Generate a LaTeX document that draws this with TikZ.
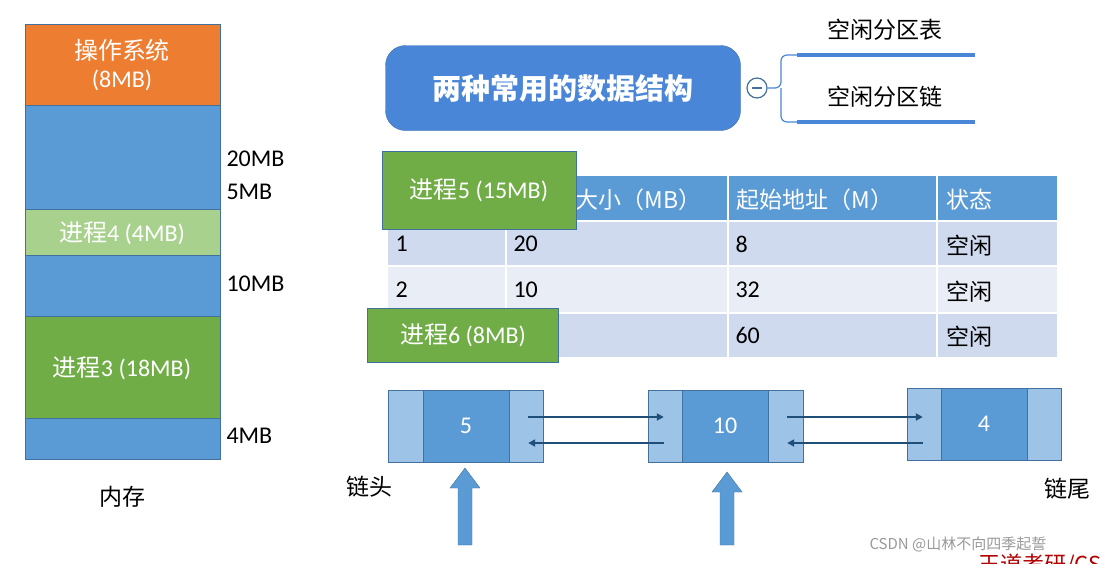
\documentclass[tikz,border=0pt]{standalone}
\usepackage{fontspec}
\setmainfont{Carlito}
\newfontfamily\cjk{Noto Sans CJK SC}
\usetikzlibrary{positioning,calc,arrows.meta}

\definecolor{orangeos}{HTML}{ED7D31}
\definecolor{blockblue}{HTML}{5B9BD5}
\definecolor{lightgreen}{HTML}{A9D18E}
\definecolor{procgreen}{HTML}{70AD47}
\definecolor{edgeblue}{HTML}{41719C}
\definecolor{mapblue}{HTML}{4A86D8}
\definecolor{rowa}{HTML}{CFDAEE}
\definecolor{rowb}{HTML}{E9EDF5}
\definecolor{cellside}{HTML}{9DC3E6}
\definecolor{ptrblue}{HTML}{1F4E79}

\tikzset{
  mem/.style={draw=edgeblue,fill=blockblue},
  big/.style={font=\fontsize{24}{28}\selectfont},
  bigcjk/.style={font=\cjk\fontsize{23}{28}\selectfont},
  lbl/.style={big,anchor=west},
  cell/.style={anchor=west,big},
  proc/.style={draw=edgeblue,fill=procgreen,text=white,big},
  side/.style={draw=edgeblue,fill=cellside},
  val/.style={draw=edgeblue,fill=blockblue,text=white,big,minimum width=86,minimum height=72},
  ptr/.style={-{Triangle[length=7pt,width=7pt]},ptrblue,line width=2pt},
  up/.style={draw=edgeblue,fill=blockblue}
}

\begin{document}
\begin{tikzpicture}[x=1pt,y=-1pt]
  \useasboundingbox (0,0) rectangle (1117,563);

  % memory column
  \draw[mem,fill=orangeos] (25,24) rectangle (220,105);
  \node[text=white,align=center,big] (os) at (122,65) {{\cjk 操作系统}\\(8MB)};
  \draw[mem] (25,105) rectangle (220,209);
  \draw[mem,fill=lightgreen] (25,209) rectangle (220,255);
  \node[text=white,big] (p4) at (122,233) {{\cjk 进程}4 (4MB)};
  \draw[mem] (25,255) rectangle (220,316);
  \draw[mem,fill=procgreen] (25,316) rectangle (220,418);
  \node[text=white,big] (p3) at (122,368) {{\cjk 进程}3 (18MB)};
  \draw[mem] (25,418) rectangle (220,459);
  \node[lbl] (f20) at (223,159) {20MB};
  \node[lbl] (f5) at (223,192) {5MB};
  \node[lbl] (f10) at (223,284) {10MB};
  \node[lbl] (f4) at (223,436) {4MB};
  \node[bigcjk] (memlbl) at (122,497) {内存};

  % mind map
  \node[draw=mapblue!80!black,fill=mapblue,rounded corners=20,minimum width=355,minimum height=85,
    text=white,font=\cjk\bfseries\fontsize{29}{30}\selectfont] (root) at (563,88) {两种常用的数据结构};
  \node[circle,draw=edgeblue,fill=white,line width=1.2pt,inner sep=0,minimum size=20] (fold) at (757,88) {};
  \draw[edgeblue,line width=1.5pt] ([xshift=-5]fold.center) -- ([xshift=5]fold.center);
  \coordinate (t1) at (975,55);
  \coordinate (t2) at (975,122);
  \draw[mapblue,line width=1.2pt,rounded corners=6] (fold.east) -- (781,88) |- (797,55);
  \draw[mapblue,line width=1.2pt,rounded corners=6] (781,88) |- (797,122);
  \draw[mapblue,line width=4pt] (797,55) -- (t1);
  \draw[mapblue,line width=4pt] (797,122) -- (t2);
  \node[bigcjk] (tab) at (885,30) {空闲分区表};
  \node[bigcjk] (chain) at (885,97) {空闲分区链};

  % table
  \fill[blockblue] (388,176) rectangle (1057,221);
  \fill[rowa] (388,221) rectangle (1057,266);
  \fill[rowb] (388,266) rectangle (1057,313);
  \fill[rowa] (388,313) rectangle (1057,357);
  \foreach \y in {221,266,313}
    \draw[white,line width=2pt] (388,\y) -- (1057,\y);
  \foreach \x in {506,728,937}
    \draw[white,line width=2pt] (\x,176) -- (\x,357);
  \node[cell,text=white,bigcjk] (h2) at (572,200) {大小（MB）};
  \node[cell,text=white,bigcjk] (h3) at (733,200) {起始地址（M）};
  \node[cell,text=white,bigcjk] (h4) at (943,200) {状态};
  \node[cell] (r11) at (392,244) {1};
  \node[cell] (r12) at (510,244) {20};
  \node[cell] (r13) at (732,244) {8};
  \node[cell,bigcjk] (r14) at (943,246) {空闲};
  \node[cell] (r21) at (392,290) {2};
  \node[cell] (r22) at (510,290) {10};
  \node[cell] (r23) at (732,290) {32};
  \node[cell,bigcjk] (r24) at (943,292) {空闲};
  \node[cell] (r33) at (732,335) {60};
  \node[cell,bigcjk] (r34) at (943,337) {空闲};

  \node[proc,minimum width=194,minimum height=78] (p5) at (479,190) {{\cjk 进程}5 (15MB)};
  \node[proc,minimum width=191,minimum height=54] (p6) at (463,335) {{\cjk 进程}6 (8MB)};

  % linked list
  \draw[side] (388,390) rectangle (543,462);
  \node[val] (n5) at (466,426) {5};
  \draw[side] (648,390) rectangle (803,462);
  \node[val] (n10) at (725,426) {10};
  \draw[side] (907,388) rectangle (1061,460);
  \node[val] (n4) at (984,424) {4};

  \draw[ptr] ([xshift=19]n5.east |- 0,417) -- ([xshift=-18]n10.west |- 0,417);
  \draw[ptr] ([xshift=-18]n10.west |- 0,443) -- ([xshift=19]n5.east |- 0,443);
  \draw[ptr] ([xshift=19]n10.east |- 0,417) -- ([xshift=-18]n4.west |- 0,417);
  \draw[ptr] ([xshift=-18]n4.west |- 0,443) -- ([xshift=19]n10.east |- 0,443);

  \node[bigcjk] (head) at (369,487) {链头};
  \node[bigcjk] (tail) at (1067,489) {链尾};

  \foreach \x/\ytip in {465/468,727/472}
    \draw[up] (\x,\ytip) -- ++(15,20) -- ++(-8,0) |- (\x-7,545) |- (\x-15,\ytip+20) -- cycle;

  % watermark
  \node[anchor=west,text=gray!80,font=\cjk\fontsize{15}{17}\selectfont] (wm) at (866,544) {CSDN @山林不向四季起誓};
  \begin{scope}
    \clip (0,0) rectangle (1117,563);
    \node[anchor=west,text=red!70!black,font=\cjk\fontsize{22}{24}\selectfont] (wm2) at (975,565) {王道考研/CS};
  \end{scope}
\end{tikzpicture}
\end{document}
